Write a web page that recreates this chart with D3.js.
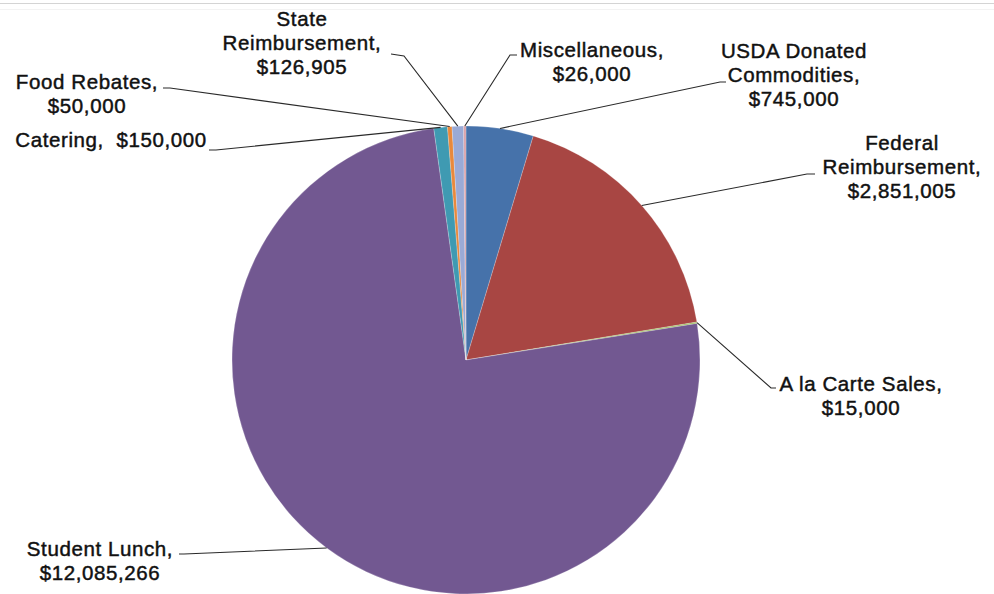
<!DOCTYPE html>
<html>
<head>
<meta charset="utf-8">
<script src="https://cdn.jsdelivr.net/npm/d3@7"></script>
<style>
  html, body { margin: 0; padding: 0; background: #fff; }
  svg { display: block; }
  text { font-family: "Liberation Sans", Arial, sans-serif; fill: #111; }
</style>
</head>
<body>
<svg id="chart" width="994" height="594"></svg>
<script>
// Revenue sources, clockwise from twelve o'clock
const categories = [
  "USDA Donated Commodities",
  "Federal Reimbursement",
  "A la Carte Sales",
  "Student Lunch",
  "Catering",
  "Food Rebates",
  "State Reimbursement",
  "Miscellaneous"
];
const values = [745000, 2851005, 15000, 12085266, 150000, 50000, 126905, 26000];

// How each label's name is broken into lines
const labelLines = [
  ["USDA Donated", "Commodities,"],
  ["Federal", "Reimbursement,"],
  ["A la Carte Sales,"],
  ["Student Lunch,"],
  ["Catering,  "],
  ["Food Rebates,"],
  ["State", "Reimbursement,"],
  ["Miscellaneous,"]
];

const colors = ["#4672AA", "#A84643", "#9BBB59", "#725891", "#3F9AB2", "#E8893C", "#9AAAD6", "#D9A2AA"];

// Label placement: x = centre of text block, y = first baseline,
// elbow = where the leader bends, end = where it meets the label
const labelLayout = [
  { x: 794, y: 58,  elbow: [720, 82],  end: [726, 82] },
  { x: 902, y: 150, elbow: [807, 174], end: [815, 174] },
  { x: 861, y: 391, elbow: [771, 388], end: [776, 388] },
  { x: 100, y: 556, elbow: [184, 554], end: [179, 554] },
  { x: 111, y: 147, elbow: [216, 150], end: [209, 150] },
  { x: 87,  y: 89,  elbow: [170, 88],  end: [163, 88] },
  { x: 302, y: 26,  elbow: [404, 56],  end: [391, 54] },
  { x: 592, y: 57,  elbow: [510, 55],  end: [517, 55] }
];

const W = 994, H = 594;
const cx = 466, cy = 360, R = 234;
const lineH = 24;
const fmt = d3.format("$,");

const svg = d3.select("#chart");

// frame line along the top
svg.append("line").attr("x1", 0).attr("x2", W).attr("y1", 3.5).attr("y2", 3.5)
  .attr("stroke", "#d4d4d4").attr("stroke-width", 1);
svg.append("line").attr("x1", 0).attr("x2", W).attr("y1", 9.5).attr("y2", 9.5)
  .attr("stroke", "#f3f3f3").attr("stroke-width", 1);

const data = categories.map((c, i) => ({ name: c, value: values[i], i }));

const pie = d3.pie().value(d => d.value).sort(null);
const arcs = pie(data);

const arc = d3.arc().innerRadius(0).outerRadius(R);
const edge = d3.arc().innerRadius(R).outerRadius(R);

const g = svg.append("g").attr("transform", `translate(${cx},${cy})`);

g.selectAll("path.slice").data(arcs).enter().append("path")
  .attr("class", "slice")
  .attr("d", arc)
  .attr("fill", d => colors[d.data.i])
  .attr("stroke", "#ffffff")
  .attr("stroke-opacity", 0.35)
  .attr("stroke-width", 0.6);

// leader lines from each slice's outer edge to its label
svg.selectAll("polyline.leader").data(arcs).enter().append("polyline")
  .attr("class", "leader")
  .attr("fill", "none")
  .attr("stroke", "#2a2a2a")
  .attr("stroke-width", 1.1)
  .attr("points", d => {
    const c = edge.centroid(d);
    const L = labelLayout[d.data.i];
    return [[cx + c[0], cy + c[1]], L.elbow, L.end].map(p => p.join(",")).join(" ");
  });

// labels: name lines followed by the formatted value
const labels = svg.selectAll("text.lbl").data(arcs).enter().append("text")
  .attr("class", "lbl")
  .attr("font-size", 20.5)
  .attr("letter-spacing", 0.6)
  .attr("stroke", "#111")
  .attr("stroke-width", 0.45)
  .attr("text-anchor", "middle");

labels.each(function(d) {
  const L = labelLayout[d.data.i];
  const lines = labelLines[d.data.i];
  const t = d3.select(this);
  if (lines.length === 1 && lines[0].endsWith("  ")) {
    // single-line label: name and value side by side
    t.attr("xml:space", "preserve");
    t.append("tspan").attr("x", L.x).attr("y", L.y)
      .text(lines[0] + fmt(d.data.value));
    return;
  }
  lines.forEach((s, k) => {
    t.append("tspan").attr("x", L.x).attr("y", L.y + k * lineH).text(s);
  });
  t.append("tspan").attr("x", L.x).attr("y", L.y + lines.length * lineH).text(fmt(d.data.value));
});
</script>
</body>
</html>
